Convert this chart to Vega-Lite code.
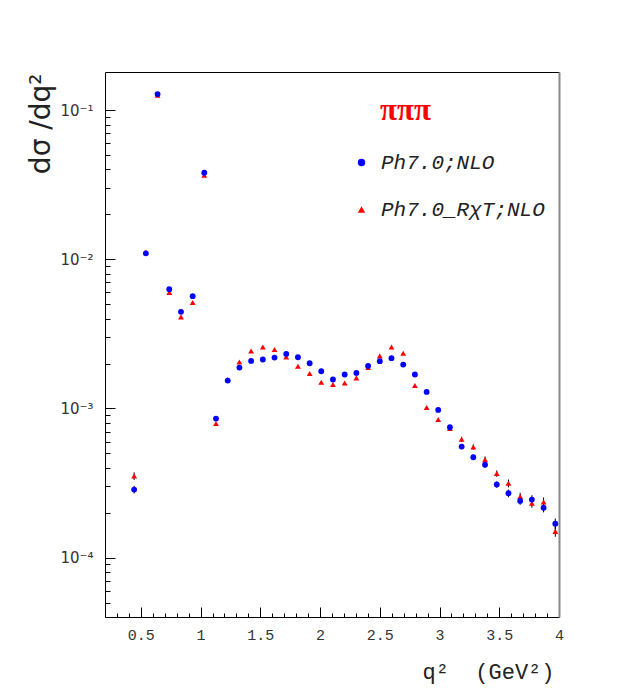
{
  "$schema": "https://vega.github.io/schema/vega-lite/v6.json",
  "width": 454,
  "height": 545,
  "autosize": "none",
  "padding": {"left": 105, "top": 72, "right": 58, "bottom": 78},
  "background": "white",
  "title": {
    "text": "πππ",
    "anchor": "start",
    "frame": "group",
    "orient": "top",
    "offset": 0,
    "baseline": "alphabetic",
    "dx": 275,
    "dy": 79,
    "font": "Liberation Serif",
    "fontSize": 31,
    "fontWeight": "bold",
    "color": "#ff0000"
  },
  "config": {
    "view": {"stroke": null},
    "axis": {"grid": false, "domainColor": "black", "tickColor": "black", "labelColor": "#333", "tickWidth": 1, "domainWidth": 1}
  },
  "datasets": {
    "pts": [
      {"q": 0.444, "v": 0.000352, "s": "Ph7.0_RχT;NLO"},
      {"q": 0.542, "v": 0.0112, "s": "Ph7.0_RχT;NLO"},
      {"q": 0.640, "v": 0.126, "s": "Ph7.0_RχT;NLO"},
      {"q": 0.738, "v": 0.00598, "s": "Ph7.0_RχT;NLO"},
      {"q": 0.836, "v": 0.00411, "s": "Ph7.0_RχT;NLO"},
      {"q": 0.934, "v": 0.00513, "s": "Ph7.0_RχT;NLO"},
      {"q": 1.031, "v": 0.0366, "s": "Ph7.0_RχT;NLO"},
      {"q": 1.129, "v": 0.000792, "s": "Ph7.0_RχT;NLO"},
      {"q": 1.227, "v": 0.00156, "s": "Ph7.0_RχT;NLO"},
      {"q": 1.325, "v": 0.00205, "s": "Ph7.0_RχT;NLO"},
      {"q": 1.423, "v": 0.00243, "s": "Ph7.0_RχT;NLO"},
      {"q": 1.521, "v": 0.002585, "s": "Ph7.0_RχT;NLO"},
      {"q": 1.619, "v": 0.002483, "s": "Ph7.0_RχT;NLO"},
      {"q": 1.717, "v": 0.002215, "s": "Ph7.0_RχT;NLO"},
      {"q": 1.815, "v": 0.001918, "s": "Ph7.0_RχT;NLO"},
      {"q": 1.913, "v": 0.001713, "s": "Ph7.0_RχT;NLO"},
      {"q": 2.010, "v": 0.0015, "s": "Ph7.0_RχT;NLO"},
      {"q": 2.108, "v": 0.001446, "s": "Ph7.0_RχT;NLO"},
      {"q": 2.206, "v": 0.001483, "s": "Ph7.0_RχT;NLO"},
      {"q": 2.304, "v": 0.001603, "s": "Ph7.0_RχT;NLO"},
      {"q": 2.402, "v": 0.001879, "s": "Ph7.0_RχT;NLO"},
      {"q": 2.500, "v": 0.002251, "s": "Ph7.0_RχT;NLO"},
      {"q": 2.598, "v": 0.002585, "s": "Ph7.0_RχT;NLO"},
      {"q": 2.696, "v": 0.002344, "s": "Ph7.0_RχT;NLO"},
      {"q": 2.794, "v": 0.001425, "s": "Ph7.0_RχT;NLO"},
      {"q": 2.892, "v": 0.001014, "s": "Ph7.0_RχT;NLO"},
      {"q": 2.989, "v": 0.000842, "s": "Ph7.0_RχT;NLO"},
      {"q": 3.087, "v": 0.000733, "s": "Ph7.0_RχT;NLO"},
      {"q": 3.185, "v": 0.000621, "s": "Ph7.0_RχT;NLO"},
      {"q": 3.283, "v": 0.000552, "s": "Ph7.0_RχT;NLO"},
      {"q": 3.381, "v": 0.000454, "s": "Ph7.0_RχT;NLO"},
      {"q": 3.479, "v": 0.000366, "s": "Ph7.0_RχT;NLO"},
      {"q": 3.577, "v": 0.000315, "s": "Ph7.0_RχT;NLO"},
      {"q": 3.675, "v": 0.000257, "s": "Ph7.0_RχT;NLO"},
      {"q": 3.773, "v": 0.000232, "s": "Ph7.0_RχT;NLO"},
      {"q": 3.871, "v": 0.000236, "s": "Ph7.0_RχT;NLO"},
      {"q": 3.969, "v": 0.000150, "s": "Ph7.0_RχT;NLO"},
      {"q": 0.444, "v": 0.000286, "s": "Ph7.0;NLO"},
      {"q": 0.542, "v": 0.01094, "s": "Ph7.0;NLO"},
      {"q": 0.640, "v": 0.128, "s": "Ph7.0;NLO"},
      {"q": 0.738, "v": 0.0063, "s": "Ph7.0;NLO"},
      {"q": 0.836, "v": 0.00444, "s": "Ph7.0;NLO"},
      {"q": 0.934, "v": 0.00566, "s": "Ph7.0;NLO"},
      {"q": 1.031, "v": 0.038, "s": "Ph7.0;NLO"},
      {"q": 1.129, "v": 0.000855, "s": "Ph7.0;NLO"},
      {"q": 1.227, "v": 0.001538, "s": "Ph7.0;NLO"},
      {"q": 1.325, "v": 0.00188, "s": "Ph7.0;NLO"},
      {"q": 1.423, "v": 0.002084, "s": "Ph7.0;NLO"},
      {"q": 1.521, "v": 0.002128, "s": "Ph7.0;NLO"},
      {"q": 1.619, "v": 0.002194, "s": "Ph7.0;NLO"},
      {"q": 1.717, "v": 0.002321, "s": "Ph7.0;NLO"},
      {"q": 1.815, "v": 0.002204, "s": "Ph7.0;NLO"},
      {"q": 1.913, "v": 0.002009, "s": "Ph7.0;NLO"},
      {"q": 2.010, "v": 0.001776, "s": "Ph7.0;NLO"},
      {"q": 2.108, "v": 0.001563, "s": "Ph7.0;NLO"},
      {"q": 2.206, "v": 0.001688, "s": "Ph7.0;NLO"},
      {"q": 2.304, "v": 0.00173, "s": "Ph7.0;NLO"},
      {"q": 2.402, "v": 0.001927, "s": "Ph7.0;NLO"},
      {"q": 2.500, "v": 0.002074, "s": "Ph7.0;NLO"},
      {"q": 2.598, "v": 0.002173, "s": "Ph7.0;NLO"},
      {"q": 2.696, "v": 0.001968, "s": "Ph7.0;NLO"},
      {"q": 2.794, "v": 0.001688, "s": "Ph7.0;NLO"},
      {"q": 2.892, "v": 0.00129, "s": "Ph7.0;NLO"},
      {"q": 2.989, "v": 0.000977, "s": "Ph7.0;NLO"},
      {"q": 3.087, "v": 0.000748, "s": "Ph7.0;NLO"},
      {"q": 3.185, "v": 0.000555, "s": "Ph7.0;NLO"},
      {"q": 3.283, "v": 0.000471, "s": "Ph7.0;NLO"},
      {"q": 3.381, "v": 0.00042, "s": "Ph7.0;NLO"},
      {"q": 3.479, "v": 0.000309, "s": "Ph7.0;NLO"},
      {"q": 3.577, "v": 0.00027, "s": "Ph7.0;NLO"},
      {"q": 3.675, "v": 0.00024, "s": "Ph7.0;NLO"},
      {"q": 3.773, "v": 0.000245, "s": "Ph7.0;NLO"},
      {"q": 3.871, "v": 0.000216, "s": "Ph7.0;NLO"},
      {"q": 3.969, "v": 0.000169, "s": "Ph7.0;NLO"}
    ],
    "err": [
      {"q": 0.444, "lo": 0.000269, "hi": 0.000303},
      {"q": 3.185, "lo": 0.000533, "hi": 0.000577},
      {"q": 3.283, "lo": 0.000452, "hi": 0.00049},
      {"q": 3.381, "lo": 0.000399, "hi": 0.000441},
      {"q": 3.479, "lo": 0.000294, "hi": 0.000324},
      {"q": 3.577, "lo": 0.000254, "hi": 0.000286},
      {"q": 3.675, "lo": 0.000226, "hi": 0.000254},
      {"q": 3.773, "lo": 0.000228, "hi": 0.000262},
      {"q": 3.871, "lo": 0.000201, "hi": 0.000231},
      {"q": 3.969, "lo": 0.000155, "hi": 0.000183},
      {"q": 0.444, "lo": 0.000331, "hi": 0.000373},
      {"q": 3.185, "lo": 0.000596, "hi": 0.000646},
      {"q": 3.283, "lo": 0.00053, "hi": 0.000574},
      {"q": 3.381, "lo": 0.000431, "hi": 0.000477},
      {"q": 3.479, "lo": 0.000348, "hi": 0.000384},
      {"q": 3.577, "lo": 0.000296, "hi": 0.000334},
      {"q": 3.675, "lo": 0.000242, "hi": 0.000272},
      {"q": 3.773, "lo": 0.000216, "hi": 0.000248},
      {"q": 3.871, "lo": 0.000219, "hi": 0.000253},
      {"q": 3.969, "lo": 0.000138, "hi": 0.000162}
    ]
  },
  "resolve": {"axis": {"x": "independent", "y": "independent"}},
  "layer": [
    {
      "data": {"name": "err"},
      "mark": {"type": "rule", "color": "black", "strokeWidth": 1},
      "encoding": {
        "x": {
          "field": "q", "type": "quantitative",
          "scale": {"domain": [0.2, 4], "nice": false, "zero": false},
          "axis": {
            "orient": "bottom",
            "values": [0.5, 1, 1.5, 2, 2.5, 3, 3.5, 4],
            "format": "~g",
            "tickSize": -10,
            "labelPadding": 20,
            "labelFlush": false,
            "labelOverlap": false,
            "labelFont": "Liberation Mono",
            "labelFontSize": 15,
            "title": "q²\u00a0\u00a0(GeV²)",
            "titleFont": "Liberation Mono",
            "titleFontSize": 22,
            "titleFontWeight": "normal",
            "titleColor": "#222",
            "titleAnchor": "end",
            "titleAlign": "right",
            "titleBaseline": "alphabetic",
            "titleX": 449,
            "titleY": 61
          }
        },
        "y": {
          "field": "lo", "type": "quantitative",
          "scale": {"type": "log", "domain": [0.00004, 0.18], "nice": false, "zero": false},
          "axis": {
            "orient": "left",
            "values": [0.0001, 0.001, 0.01, 0.1],
            "labelExpr": "datum.value < 0.0005 ? '10⁻⁴' : datum.value < 0.005 ? '10⁻³' : datum.value < 0.05 ? '10⁻²' : '10⁻¹'",
            "tickSize": -10,
            "labelPadding": 22,
            "labelOverlap": false,
            "labelFont": "DejaVu Sans",
            "labelFontSize": 15,
            "title": "dσ /dq²",
            "titleFont": "DejaVu Sans",
            "titleFontSize": 28,
            "titleFontWeight": "normal",
            "titleColor": "#222",
            "titleAngle": 270,
            "titleAlign": "right",
            "titleBaseline": "alphabetic",
            "titleX": -56,
            "titleY": 1
          }
        },
        "y2": {"field": "hi"}
      }
    },
    {
      "data": {"name": "pts"},
      "mark": {"type": "point", "filled": true, "size": 34, "opacity": 1},
      "encoding": {
        "x": {
          "field": "q", "type": "quantitative",
          "scale": {"domain": [0.2, 4], "nice": false, "zero": false},
          "axis": {
            "orient": "bottom",
            "values": [0.2, 0.3, 0.4, 0.6, 0.7, 0.8, 0.9, 1.1, 1.2, 1.3, 1.4, 1.6, 1.7, 1.8, 1.9, 2.1, 2.2, 2.3, 2.4, 2.6, 2.7, 2.8, 2.9, 3.1, 3.2, 3.3, 3.4, 3.6, 3.7, 3.8, 3.9],
            "tickSize": -4,
            "labels": false,
            "domain": false,
            "title": null
          }
        },
        "y": {
          "field": "v", "type": "quantitative",
          "scale": {"type": "log", "domain": [0.00004, 0.18], "nice": false, "zero": false},
          "axis": {
            "orient": "left",
            "values": [0.00005, 0.00006, 0.00007, 0.00008, 0.00009, 0.0002, 0.0003, 0.0004, 0.0005, 0.0006, 0.0007, 0.0008, 0.0009, 0.002, 0.003, 0.004, 0.005, 0.006, 0.007, 0.008, 0.009, 0.02, 0.03, 0.04, 0.05, 0.06, 0.07, 0.08, 0.09],
            "tickSize": -5,
            "labels": false,
            "domain": false,
            "title": null
          }
        },
        "color": {
          "field": "s", "type": "nominal",
          "scale": {"domain": ["Ph7.0;NLO", "Ph7.0_RχT;NLO"], "range": ["#0000ff", "#ff0000"]},
          "legend": {
            "orient": "none",
            "legendX": 246,
            "legendY": 80,
            "padding": 0,
            "title": null,
            "labelFont": "Liberation Mono",
            "labelFontStyle": "italic",
            "labelFontSize": 21,
            "labelColor": "#222",
            "labelOffset": 9,
            "labelLimit": 300,
            "symbolSize": 55,
            "symbolStrokeWidth": 0,
            "rowPadding": 25
          }
        },
        "shape": {
          "field": "s", "type": "nominal",
          "scale": {"domain": ["Ph7.0;NLO", "Ph7.0_RχT;NLO"], "range": ["circle", "triangle-up"]}
        }
      }
    },
    {
      "data": {"name": "pts"},
      "mark": {"type": "point", "opacity": 0},
      "encoding": {
        "x": {
          "field": "q", "type": "quantitative",
          "scale": {"domain": [0.2, 4], "nice": false, "zero": false},
          "axis": {"orient": "top", "ticks": false, "labels": false, "domain": true, "domainColor": "black", "title": null}
        },
        "y": {
          "field": "v", "type": "quantitative",
          "scale": {"type": "log", "domain": [0.00004, 0.18], "nice": false, "zero": false},
          "axis": {"orient": "right", "ticks": false, "labels": false, "domain": true, "domainColor": "#888", "domainWidth": 2, "title": null}
        }
      }
    }
  ]
}
